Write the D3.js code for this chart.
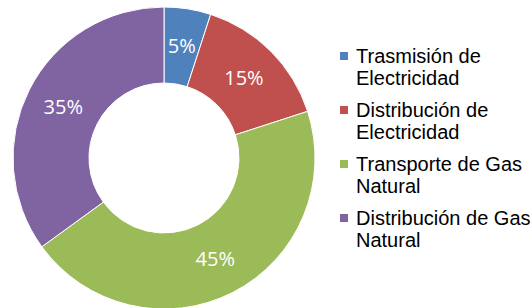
<!DOCTYPE html>
<html>
<head>
<meta charset="utf-8">
<script src="https://cdn.jsdelivr.net/npm/d3@7"></script>
<style>
  body { margin: 0; background: #fff; }
</style>
</head>
<body>
<svg></svg>
<script>
let categories = ["Trasmisión de Electricidad", "Distribución de Electricidad", "Transporte de Gas Natural", "Distribución de Gas Natural"]
let legendLines = [["Trasmisión de", "Electricidad"], ["Distribución de", "Electricidad"], ["Transporte de Gas", "Natural"], ["Distribución de Gas", "Natural"]]
let values = [5, 15, 45, 35]
let colors = ["#4F81BD", "#C0504D", "#9BBB59", "#8064A2"]

let width = 531
let height = 308
let cx = 164
let cy = 158
let outerR = 151
let innerR = 75

let svg = d3.select('svg')
  .attr('width', width)
  .attr('height', height)

let pie = d3.pie().sort(null).value(d => d)
let arcs = pie(values)

let arc = d3.arc().innerRadius(innerR).outerRadius(outerR)
let labelArc = d3.arc().innerRadius((innerR + outerR) / 2).outerRadius((innerR + outerR) / 2)

let g = svg.append('g').attr('transform', 'translate(' + cx + ',' + cy + ')')

g.selectAll('path')
  .data(arcs)
  .enter()
  .append('path')
  .attr('d', arc)
  .attr('fill', (d, i) => colors[i])
  .attr('stroke', '#fff')
  .attr('stroke-width', 1)

g.selectAll('text')
  .data(arcs)
  .enter()
  .append('text')
  .attr('transform', d => 'translate(' + labelArc.centroid(d) + ')')
  .attr('text-anchor', 'middle')
  .attr('dy', '0.35em')
  .attr('fill', '#fff')
  .style('font-family', '"Open Sans", sans-serif')
  .style('font-size', '20px')
  .text(d => d.data + '%')

let legend = svg.append('g')

let items = legend.selectAll('g')
  .data(categories)
  .enter()
  .append('g')
  .attr('transform', (d, i) => 'translate(340,' + (52 + i * 54) + ')')

items.append('rect')
  .attr('width', 8)
  .attr('height', 8)
  .attr('fill', (d, i) => colors[i])

items.each(function (d, i) {
  let t = d3.select(this).append('text')
    .attr('x', 16)
    .attr('y', 11)
    .style('font-family', '"Liberation Sans", Arial, sans-serif')
    .style('font-size', '20px')
    .attr('fill', '#000')
  legendLines[i].forEach((line, j) => {
    t.append('tspan')
      .attr('x', 16)
      .attr('dy', j === 0 ? 0 : 22)
      .text(line)
  })
})
</script>
</body>
</html>
